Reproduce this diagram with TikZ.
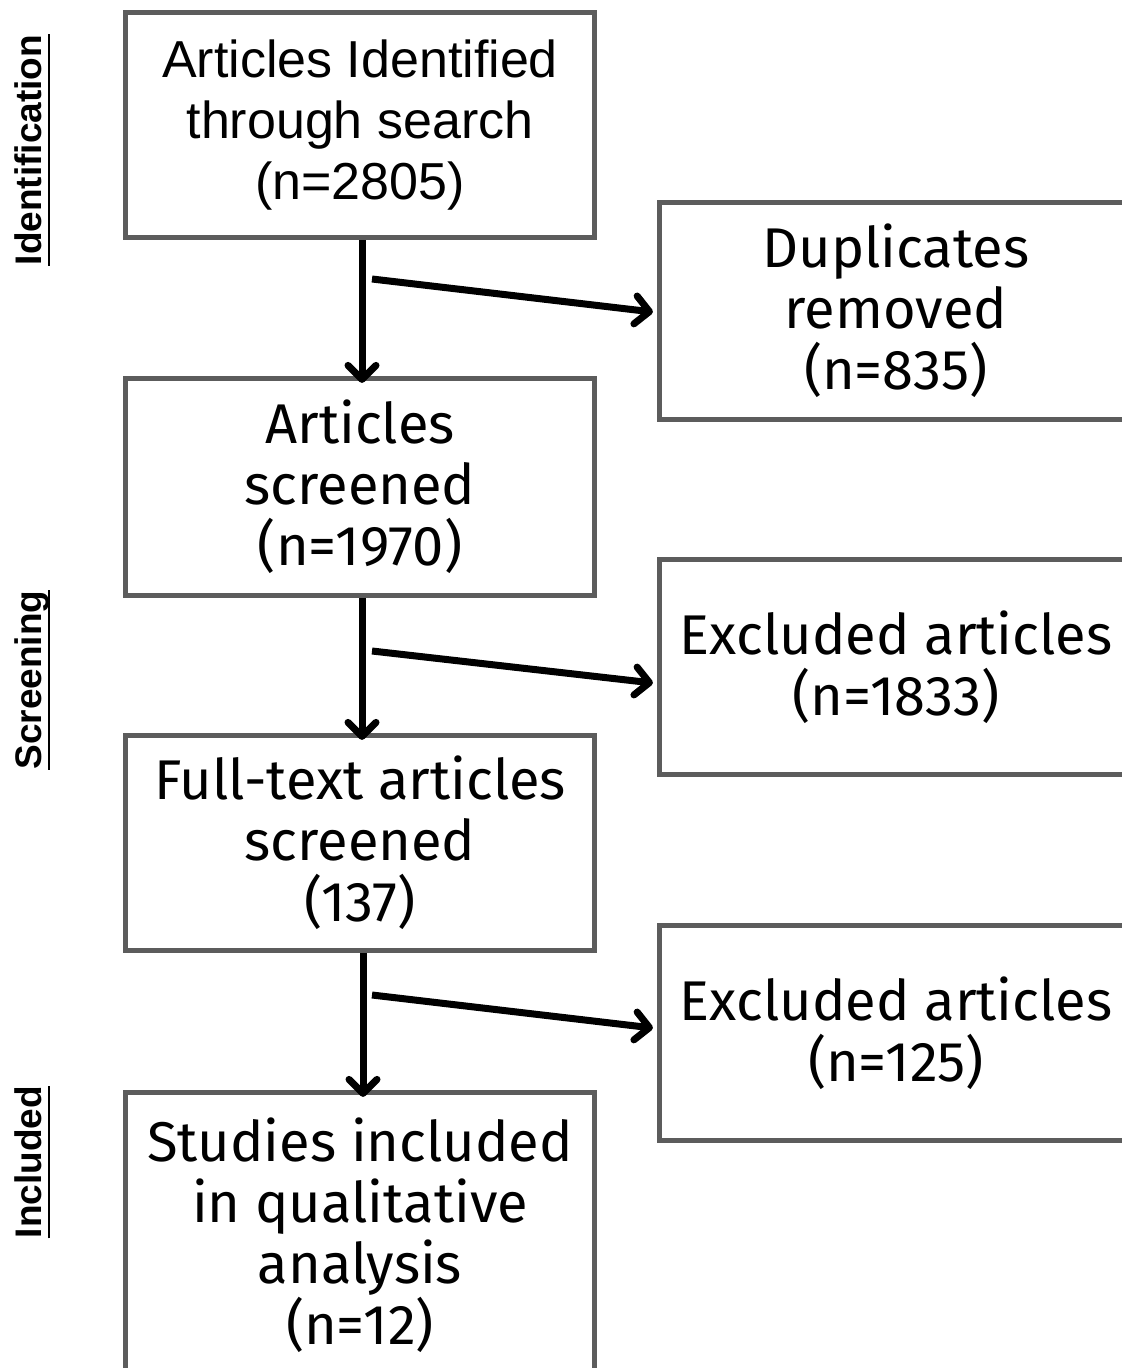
\documentclass[tikz,border=0pt]{standalone}
\usepackage{fontspec}
\setmainfont{Fira Sans}
\newfontfamily\arialfont{Liberation Sans}
\usetikzlibrary{arrows.meta}
\definecolor{boxgray}{RGB}{92,92,92}
\begin{document}
\begin{tikzpicture}[x=0.5pt,y=-0.5pt,
  flowbox/.style={draw=boxgray, line width=2.6pt, fill=white, align=center,
    inner sep=0pt, font=\fontsize{28}{30.5}\selectfont},
  leftbox/.style={flowbox, minimum width=234.5pt},
  rightbox/.style={flowbox, minimum width=236.5pt},
  stagelabel/.style={rotate=90, inner sep=0pt, anchor=base,
    font=\arialfont\bfseries\fontsize{18.5}{20}\selectfont},
  arr/.style={line width=3.5pt, black,
    -{Straight Barb[length=7pt, width=14pt, round]}}]
\useasboundingbox (0,0) rectangle (1122,1368);
\clip (0,0) rectangle (1122,1368);
\fill[white] (0,0) rectangle (1122,1368);

% main column
\node[leftbox, minimum height=112.5pt, font=\arialfont\fontsize{26}{30.5}\selectfont] (ident) at (360,125)
  {Articles Identified\\through search\\(n=2805)};
\node[leftbox, minimum height=108.5pt] (screen) at (360,487)
  {Articles\\screened\\(n=1970)};
\node[leftbox, minimum height=107.5pt] (full) at (360,843)
  {Full-text articles\\screened\\(137)};
\node[leftbox, minimum height=142.5pt] (incl) at (360,1235)
  {Studies included\\in qualitative\\analysis\\(n=12)};

% exclusion column
\node[rightbox, minimum height=108.5pt] (dup) at (896,311)
  {Duplicates\\removed\\(n=835)};
\node[rightbox, minimum height=107.5pt] (exa) at (896,667)
  {Excluded articles\\(n=1833)};
\node[rightbox, minimum height=107.5pt] (exb) at (896,1033)
  {Excluded articles\\(n=125)};

% stage labels with underline
\node[stagelabel] (lid) at (41,150) {Identification};
\node[stagelabel] (lsc) at (41,680) {Screening};
\node[stagelabel] (lin) at (41,1162) {Included};
\foreach \n in {lid,lsc,lin}
  \draw[line width=1.3pt] ([xshift=4pt]\n.base west) -- ([xshift=4pt]\n.base east);

% flow arrows
\draw[arr] ([xshift=1pt]ident.south) -- ([xshift=1pt,yshift=-3.5pt]screen.north);
\draw[arr] ([xshift=1pt]screen.south) -- ([xshift=1pt,yshift=-3.5pt]full.north);
\draw[arr] ([xshift=1.5pt]full.south) -- ([xshift=1.5pt,yshift=-3.5pt]incl.north);

\coordinate (s1) at (372,279);
\coordinate (s2) at (372,651);
\coordinate (s3) at (372,995);
\draw[arr] (s1) -- ([xshift=-2pt,yshift=-0.5pt]dup.west);
\draw[arr] (s2) -- ([xshift=-2pt,yshift=-8pt]exa.west);
\draw[arr] (s3) -- ([xshift=-2pt,yshift=2.5pt]exb.west);
\end{tikzpicture}
\end{document}
